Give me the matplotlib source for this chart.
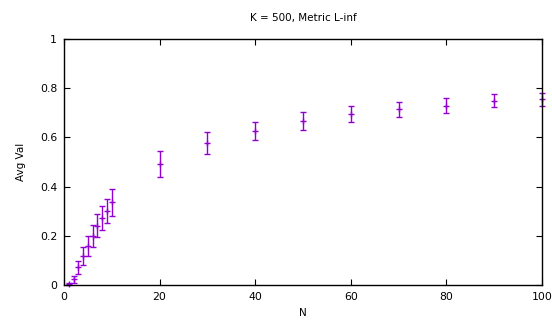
import numpy as np
import matplotlib
matplotlib.use("Agg")
import matplotlib.pyplot as plt

# data
n_vals = [1, 2, 3, 4, 5, 6, 7, 8, 9, 10, 20, 30, 40, 50, 60, 70, 80, 90, 100]
avg_val = [0.003, 0.023, 0.072, 0.118, 0.158, 0.199, 0.241, 0.273, 0.302, 0.336,
           0.492, 0.577, 0.626, 0.668, 0.695, 0.714, 0.729, 0.749, 0.755]
err = [0.005, 0.013, 0.027, 0.036, 0.041, 0.046, 0.047, 0.049, 0.048, 0.054,
       0.053, 0.045, 0.038, 0.037, 0.033, 0.030, 0.031, 0.027, 0.027]

x_ticks = [0, 20, 40, 60, 80, 100]
y_ticks = [0, 0.2, 0.4, 0.6, 0.8, 1]
y_tick_labels = ["0", "0.2", "0.4", "0.6", "0.8", "1"]

plt.rcParams['font.family'] = ['DejaVu Sans']

fig = plt.figure(figsize=(5.52, 3.24), dpi=100)
ax = fig.add_axes([64 / 552, 39 / 324, 478 / 552, 246 / 324])

col = '#9400d3'
eb = ax.errorbar(n_vals, avg_val, yerr=err, fmt='+', color=col, ecolor=col,
                 elinewidth=1.0, capsize=2.3, capthick=1.0, markersize=4.5, mew=1.0)
for artist in eb.lines[0:1] + tuple(eb.lines[1]) + tuple(eb.lines[2]):
    artist.set_clip_on(False)

ax.set_xlim(0, 100)
ax.set_ylim(0, 1)
ax.set_xticks(x_ticks)
ax.set_yticks(y_ticks)
ax.set_yticklabels(y_tick_labels)
ax.tick_params(direction='in', top=True, right=True, length=4, width=0.8,
               labelsize=7.8, pad=5)
for s in ax.spines.values():
    s.set_linewidth(1.0)

ax.set_title("K = 500, Metric L-inf", fontsize=7.5, pad=13)
ax.set_xlabel("N", fontsize=7.5, labelpad=4)
ax.set_ylabel("Avg Val", fontsize=7.5, labelpad=10)

fig.savefig("out.png", dpi=100)
